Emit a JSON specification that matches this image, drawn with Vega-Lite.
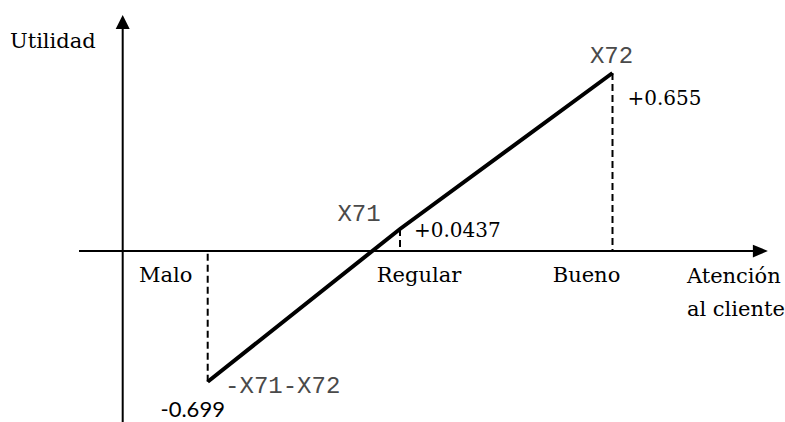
{
  "$schema": "https://vega.github.io/schema/vega-lite/v6.json",
  "width": 785,
  "height": 422,
  "padding": 0,
  "autosize": {"type": "none"},
  "background": "white",
  "config": {"view": {"stroke": null}},
  "datasets": {
    "niveles": [
      {"nivel": "Malo", "pos": 1, "utilidad": -0.699, "valor": "-0.699", "coef": "-X71-X72"},
      {"nivel": "Regular", "pos": 2, "utilidad": 0.0437, "valor": "+0.0437", "coef": "X71"},
      {"nivel": "Bueno", "pos": 3, "utilidad": 0.655, "valor": "+0.655", "coef": "X72"}
    ],
    "ejes": [{"eje": "decoracion"}]
  },
  "layer": [
    {
      "data": {"name": "ejes"},
      "mark": {"type": "rule", "color": "black", "strokeWidth": 2},
      "encoding": {
        "x": {"datum": 0, "type": "quantitative", "axis": null, "scale": {"domain": [0, 1, 2, 3], "range": [122.7, 207.7, 400, 612.5], "nice": false, "zero": false}},
        "y": {"datum": -0.95, "type": "quantitative", "axis": null, "scale": {"domain": [-0.699, 0, 0.0437, 0.655], "range": [381.7, 251, 229, 73], "nice": false, "zero": false}},
        "y2": {"datum": 0.855}
      }
    },
    {
      "data": {"name": "ejes"},
      "mark": {"type": "rule", "color": "black", "strokeWidth": 2},
      "encoding": {
        "x": {"datum": -0.514, "type": "quantitative", "axis": null, "scale": {"domain": [0, 1, 2, 3], "range": [122.7, 207.7, 400, 612.5], "nice": false, "zero": false}},
        "x2": {"datum": 3.696},
        "y": {"datum": 0, "type": "quantitative", "axis": null, "scale": {"domain": [-0.699, 0, 0.0437, 0.655], "range": [381.7, 251, 229, 73], "nice": false, "zero": false}}
      }
    },
    {
      "data": {"name": "ejes"},
      "mark": {"type": "point", "shape": "M0,-1L-1,1L1,1Z", "size": 196, "filled": true, "color": "black", "opacity": 1, "strokeWidth": 0},
      "encoding": {
        "x": {"datum": 0, "type": "quantitative", "axis": null, "scale": {"domain": [0, 1, 2, 3], "range": [122.7, 207.7, 400, 612.5], "nice": false, "zero": false}},
        "y": {"datum": 0.855, "type": "quantitative", "axis": null, "scale": {"domain": [-0.699, 0, 0.0437, 0.655], "range": [381.7, 251, 229, 73], "nice": false, "zero": false}}
      }
    },
    {
      "data": {"name": "ejes"},
      "mark": {"type": "point", "shape": "M1,0L-1,-0.85L-1,0.85Z", "size": 225, "filled": true, "color": "black", "opacity": 1, "strokeWidth": 0},
      "encoding": {
        "x": {"datum": 3.696, "type": "quantitative", "axis": null, "scale": {"domain": [0, 1, 2, 3], "range": [122.7, 207.7, 400, 612.5], "nice": false, "zero": false}},
        "y": {"datum": 0, "type": "quantitative", "axis": null, "scale": {"domain": [-0.699, 0, 0.0437, 0.655], "range": [381.7, 251, 229, 73], "nice": false, "zero": false}}
      }
    },
    {
      "data": {"name": "ejes"},
      "mark": {"type": "text", "text": "Utilidad", "font": "DejaVu Serif", "fontSize": 21, "align": "right", "baseline": "alphabetic", "dx": -27, "dy": 26, "color": "black"},
      "encoding": {
        "x": {"datum": 0, "type": "quantitative", "axis": null, "scale": {"domain": [0, 1, 2, 3], "range": [122.7, 207.7, 400, 612.5], "nice": false, "zero": false}},
        "y": {"datum": 0.855, "type": "quantitative", "axis": null, "scale": {"domain": [-0.699, 0, 0.0437, 0.655], "range": [381.7, 251, 229, 73], "nice": false, "zero": false}}
      }
    },
    {
      "data": {"name": "ejes"},
      "mark": {"type": "text", "text": ["Atención", "al cliente"], "lineHeight": 33, "font": "DejaVu Serif", "fontSize": 21, "align": "left", "baseline": "alphabetic", "dx": -73.5, "dy": 32, "color": "black"},
      "encoding": {
        "x": {"datum": 3.696, "type": "quantitative", "axis": null, "scale": {"domain": [0, 1, 2, 3], "range": [122.7, 207.7, 400, 612.5], "nice": false, "zero": false}},
        "y": {"datum": 0, "type": "quantitative", "axis": null, "scale": {"domain": [-0.699, 0, 0.0437, 0.655], "range": [381.7, 251, 229, 73], "nice": false, "zero": false}}
      }
    },
    {
      "data": {"name": "niveles"},
      "encoding": {
        "x": {"field": "pos", "type": "quantitative", "axis": null,
          "scale": {"domain": [0, 1, 2, 3], "range": [122.7, 207.7, 400, 612.5], "nice": false, "zero": false}},
        "y": {"field": "utilidad", "type": "quantitative", "axis": null,
          "scale": {"domain": [-0.699, 0, 0.0437, 0.655], "range": [381.7, 251, 229, 73], "nice": false, "zero": false}}
      },
      "layer": [
        {
          "mark": {"type": "rule", "color": "black", "strokeWidth": 2, "strokeDash": [7, 4]},
          "encoding": {"y2": {"datum": 0}}
        },
        {
          "mark": {"type": "line", "color": "black", "strokeWidth": 4},
          "encoding": {"order": {"field": "pos"}}
        },
        {
          "transform": [{"filter": "datum.nivel == 'Malo'"}],
          "mark": {"type": "text", "font": "DejaVu Serif", "fontSize": 21, "align": "center", "baseline": "alphabetic", "dx": -42, "dy": 31, "color": "black"},
          "encoding": {"y": {"datum": 0}, "text": {"field": "nivel"}}
        },
        {
          "transform": [{"filter": "datum.nivel == 'Regular'"}],
          "mark": {"type": "text", "font": "DejaVu Serif", "fontSize": 21, "align": "center", "baseline": "alphabetic", "dx": 19, "dy": 31, "color": "black"},
          "encoding": {"y": {"datum": 0}, "text": {"field": "nivel"}}
        },
        {
          "transform": [{"filter": "datum.nivel == 'Bueno'"}],
          "mark": {"type": "text", "font": "DejaVu Serif", "fontSize": 21, "align": "center", "baseline": "alphabetic", "dx": -26, "dy": 31, "color": "black"},
          "encoding": {"y": {"datum": 0}, "text": {"field": "nivel"}}
        },
        {
          "transform": [{"filter": "datum.nivel == 'Malo'"}],
          "mark": {"type": "text", "font": "Lato", "fontSize": 22, "align": "center", "baseline": "alphabetic", "dx": -15, "dy": 35, "color": "black"},
          "encoding": {"text": {"field": "valor"}}
        },
        {
          "transform": [{"filter": "datum.nivel == 'Regular'"}],
          "mark": {"type": "text", "font": "DejaVu Serif", "fontSize": 20, "align": "left", "baseline": "alphabetic", "dx": 14, "dy": 8, "color": "black"},
          "encoding": {"text": {"field": "valor"}}
        },
        {
          "transform": [{"filter": "datum.nivel == 'Bueno'"}],
          "mark": {"type": "text", "font": "DejaVu Serif", "fontSize": 20, "align": "left", "baseline": "alphabetic", "dx": 15, "dy": 32, "color": "black"},
          "encoding": {"text": {"field": "valor"}}
        },
        {
          "transform": [{"filter": "datum.nivel == 'Malo'"}],
          "mark": {"type": "text", "font": "Liberation Mono", "fontSize": 24, "align": "center", "baseline": "alphabetic", "dx": 75, "dy": 11, "color": "#4a4a4a"},
          "encoding": {"text": {"field": "coef"}}
        },
        {
          "transform": [{"filter": "datum.nivel == 'Regular'"}],
          "mark": {"type": "text", "font": "Liberation Mono", "fontSize": 24, "align": "center", "baseline": "alphabetic", "dx": -41, "dy": -8, "color": "#4a4a4a"},
          "encoding": {"text": {"field": "coef"}}
        },
        {
          "transform": [{"filter": "datum.nivel == 'Bueno'"}],
          "mark": {"type": "text", "font": "Liberation Mono", "fontSize": 24, "align": "center", "baseline": "alphabetic", "dx": -1, "dy": -10, "color": "#4a4a4a"},
          "encoding": {"text": {"field": "coef"}}
        }
      ]
    }
  ]
}
